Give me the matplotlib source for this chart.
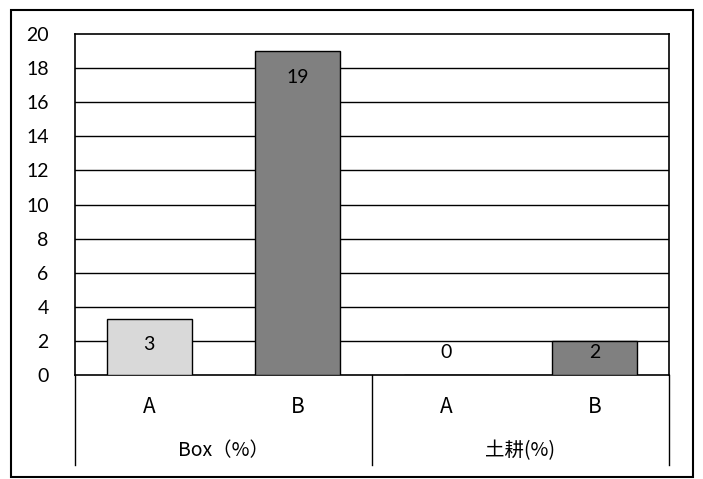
import matplotlib
matplotlib.use("Agg")
import matplotlib.pyplot as plt
from matplotlib.transforms import blended_transform_factory
from matplotlib.patches import Rectangle
from matplotlib.lines import Line2D

groups = ["Box（%）", "土耕(%)"]
subcats = ["A", "B", "A", "B"]
values = [3.3, 19, 0, 2]
value_labels = ["3", "19", "0", "2"]
colors = ["#D9D9D9", "#808080", "#D9D9D9", "#808080"]
yticks = [0, 2, 4, 6, 8, 10, 12, 14, 16, 18, 20]

W, H = 703, 479
fig = plt.figure(figsize=(W / 100, H / 100), dpi=100)
fig.patch.set_facecolor("white")

L, R, T, B = 75, 669, 34, 375
ax = fig.add_axes([L / W, 1 - B / H, (R - L) / W, (B - T) / H])

x = list(range(len(values)))
ax.bar(x, values, width=0.57, color=colors, edgecolor="black", linewidth=1, zorder=3)
ax.set_xlim(-0.5, len(values) - 0.5)
ax.set_ylim(0, 20)
ax.set_yticks(yticks)
ax.set_yticklabels([str(t) for t in yticks], fontsize=14, family=["Lato", "DejaVu Sans"])
ax.tick_params(axis="y", length=0, pad=19)
ax.set_xticks([])
for y in yticks[1:-1]:
    ax.axhline(y, color="black", linewidth=1, zorder=1)
for s in ax.spines.values():
    s.set_color("black")
    s.set_linewidth(1.2)

tr = blended_transform_factory(ax.transData, fig.transFigure)

# value labels
ppu = (B - T) / 20.0
for xi, v, lab in zip(x, values, value_labels):
    ypix = B - v * ppu + 26
    ypix = min(ypix, B - 23)
    ax.text(xi, 1 - ypix / H, lab, transform=tr,
            ha="center", va="center", fontsize=14, family=["Lato", "DejaVu Sans"], zorder=5)

for xi, s in zip(x, subcats):
    ax.text(xi, 1 - 407 / H, s, transform=tr, ha="center", va="center", fontsize=15,
            family=["Noto Sans CJK JP"], clip_on=False)
for gi, g in enumerate(groups):
    ax.text(2 * gi + 0.5, 1 - 451 / H, g, transform=tr, ha="center", va="center", fontsize=14,
            family=["Noto Sans CJK JP"], clip_on=False)
for xs in [-0.5, 1.5, 3.5]:
    ax.add_line(Line2D([xs, xs], [1 - B / H, 1 - 465 / H], transform=tr, color="black",
                       linewidth=1, clip_on=False))

fig.patches.append(Rectangle((11 / W, 1 - 477 / H), (693 - 11) / W, (477 - 10) / H,
                             transform=fig.transFigure, fill=False, edgecolor="black", linewidth=1.5))

fig.savefig("out.png", dpi=100)
